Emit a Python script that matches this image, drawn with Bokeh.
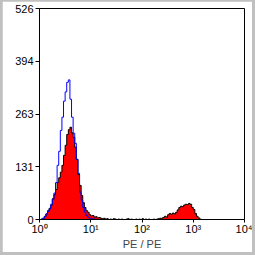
from bokeh.plotting import figure
from bokeh.layouts import column
from bokeh.models import FixedTicker, CustomJSTickFormatter
from bokeh.embed import file_html
from bokeh.resources import INLINE
import numpy as np

# histogram channels: 32 bins per decade starting at 10^0
bins_per_decade = 32
red_counts = [0, 1, 3, 8, 14, 22, 28, 36, 52, 62, 75, 92, 104, 118, 135, 160,
              185, 212, 224, 230, 216, 205, 180, 150, 112, 85, 60, 42, 30, 22, 18, 12,
              9, 10, 6, 7, 4, 5, 3, 2, 3, 1, 2, 0, 1, 0, 2, 1,
              0, 1, 0, 1, 0, 0, 1, 2, 0, 1, 0, 0, 1, 0, 1, 0,
              2, 0, 1, 0, 1, 0, 0, 1, 0, 1, 2, 3, 3, 5, 8, 6,
              12, 15, 13, 16, 14, 18, 24, 30, 33, 32, 36, 38, 37, 40, 38, 30,
              25, 15, 8, 4, 1, 0, 0, 0]
blue_counts = [0, 1, 3, 7, 14, 20, 26, 38, 50, 66, 92, 135, 170, 222, 255, 295,
               318, 342, 348, 300, 255, 215, 190, 150, 115, 68, 48, 30, 18, 10, 6, 3,
               2, 1, 1, 0, 0, 0, 0, 0]
y_ticks = [0, 131, 263, 394, 526]
x_ticks = [1, 10, 100, 1000, 10000]
x_label = "PE / PE"

def edges(n):
    k = np.arange(n + 1)
    return 10 ** (k / bins_per_decade)

p = figure(width=250, height=251, x_axis_type="log", x_range=(1, 10000), y_range=(0, 526),
           output_backend="svg", toolbar_location=None,
           min_border_left=37, min_border_right=8, min_border_top=7, min_border_bottom=33)
p.background_fill_color = "white"
p.border_fill_color = "white"
p.outline_line_color = "black"
p.outline_line_alpha = 1
p.grid.visible = False

re = edges(len(red_counts))
rx = np.append(re[:-1], re[-1])
ry = red_counts + [0]
p.varea_step(x=rx, y1=0, y2=ry, step_mode="after", fill_color="#ff0000")
p.step(x=rx, y=ry, mode="after", line_color="black", line_width=1)
be = edges(len(blue_counts))
p.step(x=np.append(be[:-1], be[-1]), y=blue_counts + [0], mode="after", line_color="#0000ff", line_width=1)

font = "Liberation Sans"
for ax in (p.xaxis[0], p.yaxis[0]):
    ax.axis_line_color = "black"
    ax.major_tick_line_color = "black"
    ax.minor_tick_line_color = None
    ax.major_tick_in = 0
    ax.major_tick_out = 4
    ax.major_label_text_font = font
    ax.major_label_text_font_size = "11px"
    ax.major_label_text_color = "black"
p.yaxis.ticker = FixedTicker(ticks=y_ticks)
p.yaxis.major_label_standoff = 2
p.xaxis.ticker = FixedTicker(ticks=x_ticks, minor_ticks=[])
p.xaxis.major_tick_out = 3
p.xaxis.major_label_standoff = 0
p.xaxis.formatter = CustomJSTickFormatter(code="""
const sup = {'0':'\u2070','1':'\u00b9','2':'\u00b2','3':'\u00b3','4':'\u2074'};
const e = Math.round(Math.log10(tick)).toString();
return '10' + e.split('').map(c => sup[c]).join('');
""")
p.xaxis.axis_label = x_label
p.xaxis.axis_label_text_font = font
p.xaxis.axis_label_text_font_size = "11px"
p.xaxis.axis_label_text_font_style = "normal"
p.xaxis.axis_label_standoff = 0

layout = column(p, styles={"background-color": "#c0c0c0", "padding": "1px 3px 3px 2px"})
open("out.html", "w").write(file_html(layout, INLINE))
